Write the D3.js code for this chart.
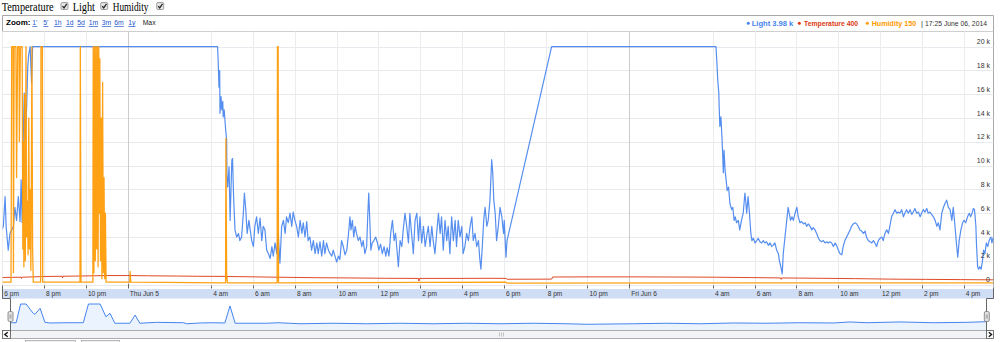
<!DOCTYPE html>
<html><head><meta charset="utf-8">
<script src="https://cdn.jsdelivr.net/npm/d3@7/dist/d3.min.js"></script>
<style>
html,body{margin:0;padding:0;background:#fff;}
svg{display:block;}
</style></head><body>
<svg id="c" width="1000" height="342"></svg>
<script>
// ---------------- DATA ----------------
const seriesNames  = ["Light", "Temperature", "Humidity"];
const seriesColors = ["#4684ee", "#dc3912", "#ff9900"];
const startTime = [2014, 5, 4, 18, 0];   // 2014-06-04 18:00 (minutes below are offsets from this)

// Light: [minutes, value in k]
const lightK = [
[0,4.7],[3,4.9],[8,7.4],[11,4.9],[17,2.9],[22,4.3],[32,4.9],[36,6.5],[41,5.4],[46,7.4],[51,5.3],[54,8.8],[57,5.2],
[60,12.2],[63,16.1],[66,12.2],[70,15],[73,18.3],[76,19.4],[80,20],[84,16.9],[87,20],
[618,20],[620,18.6],[622,16.6],[624,18],[625,14.4],[628,15.8],[630,14.7],[633,15.4],[634,14.1],[637,14.7],[641,13.1],
[644,12.2],[645,9.1],[647,8.2],[651,9.9],[654,5.4],[659,10.5],[661,10.6],[664,7.4],[668,4.6],[673,4.0],[678,4.3],
[682,3.7],[687,4.0],[692,6.0],[695,7.7],[699,6.3],[703,4.3],[708,5.4],[716,3.7],[721,3.2],[725,4.9],[730,5.7],
[735,4.3],[740,5.6],[745,3.7],[749,4.9],[754,4.6],[759,2.9],[764,2.6],[769,2.2],[774,3.2],[778,2.4],[783,3.5],
[788,2.6],[792,4.3],[797,1.8],[802,4.9],[807,5.4],[812,4.3],[816,5.7],[821,5.2],[826,6.0],[831,4.9],[835,6.1],
[840,5.4],[845,4.9],[850,4.0],[855,5.4],[860,4.3],[864,5.2],[869,4.0],[874,5.3],[878,3.7],[883,4.0],[888,2.9],
[893,3.7],[898,2.6],[903,3.5],[907,2.6],[912,3.6],[917,2.4],[922,3.7],[926,2.6],[931,3.5],[936,2.9],[941,2.6],
[946,2.4],[950,2.9],[955,2.4],[960,1.9],[965,2.4],[969,2.1],[974,3.7],[979,3.2],[984,2.5],[989,2.9],[994,4.3],
[998,5.7],[1001,4.6],[1005,5.4],[1009,4.0],[1013,4.9],[1017,4.3],[1022,3.7],[1027,4.0],[1032,3.2],[1036,3.7],
[1041,2.6],[1046,3.2],[1049,5.7],[1052,7.7],[1055,5.4],[1058,2.9],[1062,3.5],[1067,3.7],[1072,4.0],[1077,3.5],
[1081,2.9],[1086,3.4],[1091,2.6],[1096,3.2],[1101,2.4],[1105,3.1],[1110,2.4],[1115,4.3],[1120,5.4],[1125,3.7],
[1129,4.3],[1134,2.6],[1137,1.5],[1142,3.7],[1147,3.2],[1151,4.6],[1156,6.0],[1161,4.9],[1166,3.5],[1170,6.0],
[1175,4.3],[1180,2.6],[1185,5.4],[1190,6.0],[1195,3.7],[1199,5.7],[1204,3.5],[1209,4.9],[1214,3.2],[1218,4.0],
[1223,4.9],[1228,3.2],[1233,4.9],[1237,3.7],[1242,2.6],[1247,4.3],[1252,6.0],[1257,4.3],[1261,5.7],[1266,2.9],
[1271,5.4],[1276,3.7],[1280,4.9],[1285,2.6],[1290,5.7],[1295,3.7],[1300,5.4],[1304,3.2],[1309,5.4],[1314,4.0],
[1319,4.9],[1323,2.6],[1328,3.2],[1333,4.3],[1338,3.7],[1343,4.9],[1348,5.7],[1352,3.7],[1357,4.3],[1362,3.2],
[1367,3.7],[1371,2.1],[1374,1.3],[1378,3.2],[1382,5.4],[1386,6.5],[1391,4.9],[1395,5.4],[1400,7.1],[1405,10.5],
[1408,9.4],[1411,7.1],[1415,6.0],[1419,3.7],[1424,4.9],[1429,6.5],[1434,5.7],[1439,4.3],[1441,5.4],[1446,2.3],
[1449,3.7],
[1577,20],[2049,20],[2051,18.9],[2054,17.2],[2057,16.1],[2058,15],[2060,13.3],[2063,14.1],[2066,12.4],[2068,11.0],
[2070,9.4],[2072,11.3],[2075,9.6],[2078,8.8],[2081,7.9],[2085,8.2],[2089,6.8],[2094,6.3],[2097,6.5],[2101,5.4],
[2104,5.7],[2108,5.2],[2113,5.4],[2117,4.6],[2122,5.4],[2127,6.0],[2132,7.7],[2135,6.8],[2137,6.0],[2141,7.4],
[2145,6.0],[2149,4.3],[2152,3.7],[2156,3.9],[2161,3.5],[2166,3.7],[2170,3.9],[2175,3.6],[2180,3.5],[2185,3.7],
[2189,3.5],[2194,3.6],[2199,3.3],[2204,3.5],[2209,3.2],[2213,3.3],[2218,3.5],[2223,2.9],[2228,2.6],[2231,2.0],
[2235,1.5],[2239,0.9],[2242,2.6],[2247,4.0],[2252,5.4],[2256,6.5],[2259,6.0],[2263,5.4],[2267,5.7],[2271,5.4],
[2276,6.0],[2281,6.5],[2285,5.7],[2290,5.2],[2295,5.3],[2300,5.1],[2305,5.2],[2309,4.9],[2314,5.1],[2319,4.9],
[2324,4.6],[2328,4.8],[2333,4.6],[2338,4.3],[2343,3.9],[2347,3.7],[2352,3.6],[2357,3.7],[2362,3.5],[2367,3.6],
[2371,3.5],[2376,3.6],[2381,3.5],[2386,3.2],[2391,3.5],[2395,3.3],[2400,2.9],[2405,2.6],[2410,2.5],[2414,3.2],
[2419,3.7],[2424,4.0],[2429,4.3],[2434,4.6],[2438,4.9],[2443,5.1],[2448,5.2],[2453,5.1],[2457,4.9],[2462,4.6],
[2467,4.5],[2472,4.3],[2477,4.5],[2481,4.0],[2486,3.7],[2491,3.6],[2496,3.5],[2501,3.7],[2505,3.5],[2510,3.2],
[2515,3.7],[2520,3.9],[2525,4.0],[2529,3.7],[2534,4.3],[2539,4.6],[2544,4.3],[2548,4.9],[2553,5.7],[2558,6.0],
[2563,6.3],[2568,6.0],[2572,6.1],[2577,6.0],[2582,6.3],[2587,5.7],[2591,6.0],[2596,6.3],[2601,6.0],[2606,6.3],
[2611,5.9],[2615,6.1],[2620,6.4],[2625,6.0],[2630,6.1],[2635,5.7],[2639,6.0],[2644,6.3],[2649,6.1],[2654,6.4],
[2658,6.0],[2663,6.1],[2668,5.9],[2673,5.7],[2678,5.4],[2683,4.9],[2687,5.2],[2692,4.6],[2697,6.0],[2702,6.5],
[2706,6.8],[2711,7.1],[2716,6.5],[2721,6.3],[2726,5.4],[2730,6.5],[2735,4.9],[2740,3.2],[2743,2.3],[2747,3.7],
[2752,4.6],[2757,5.2],[2761,5.4],[2766,5.2],[2771,5.7],[2776,6.0],[2780,5.7],[2785,6.1],[2788,6.4],[2791,6.3],
[2795,4.9],[2797,3.2],[2800,1.5],[2803,1.3],[2806,1.5],[2810,1.3],[2814,2.0],[2817,2.9],[2821,2.6],[2825,3.5],
[2829,3.2],[2833,3.7],[2838,4.0],[2841,3.5],[2845,3.98]
];

// Temperature: [minutes, raw value]
const temperature = [
[0,600],[30,610],[54,620],[55,520],[56,620],[90,650],[120,680],[172,700],[173,560],[174,700],[240,730],[300,760],
[360,760],[420,740],[500,720],[560,700],[641,690],[642,480],[644,680],[700,660],[790,620],[791,520],[792,620],
[900,580],[1000,560],[1100,530],[1195,520],[1196,300],[1198,520],[1300,520],[1400,530],[1446,520],[1449,450],
[1577,460],[1580,640],[1700,650],[1800,650],[1900,640],[2000,630],[2050,620],[2150,590],[2235,560],[2236,440],
[2238,560],[2350,530],[2450,500],[2550,460],[2650,440],[2750,420],[2800,410],[2845,400]
];

// Humidity: [minutes, raw value]
const humidity = [
[0,200],[25,200],[27,20000],[31,20000],[32,1000],[34,20000],[39,20000],[41,9000],[44,20000],[48,20000],[49,12000],
[52,20000],[57,20000],[59,3000],[60,12000],[62,1500],[64,16000],[66,2000],[68,20000],[70,4000],[72,7000],[74,2500],
[76,14000],[78,3000],[80,8000],[82,1200],[83,6000],[85,20000],[87,3000],[89,200],[110,200],[111,20000],[115,20000],
[116,200],[223,200],[224,20000],[226,200],[260,200],[261,20000],[263,1000],[265,20000],[267,2000],[269,20000],
[271,3000],[273,20000],[275,1500],[277,20000],[278,6000],[280,19000],[282,2000],[284,14000],[286,500],[288,17000],
[290,1000],[292,9000],[294,500],[296,6000],[298,200],[366,200],[367,1100],[369,200],[641,150],[642,12300],
[644,1000],[646,150],[789,150],[790,20000],[792,20000],[793,150],[1446,200],[1449,130],[2845,150]
];

// Range-selector overview line: [minutes, value in k]
const overviewK = [
[0,5.6],[5,5.6],[15,5.6],[28,20],[44,20],[65,12.8],[70,12.1],[85,16.7],[99,5.9],[114,5.4],[163,5.6],[211,5.6],
[226,20],[260,20],[277,10.2],[289,12.8],[303,5.2],[347,5.2],[362,11.5],[376,5.2],[425,5.9],[503,5.6],[513,4.8],
[552,5.4],[590,5.6],[624,5.4],[639,18.5],[654,5.2],[746,5.2],[780,5.6],[843,4.8],[940,5.2],[1038,4.8],[1135,5.2],
[1231,4.8],[1330,5.2],[1427,4.8],[1524,5.2],[1622,4.8],[1680,4.4],[1816,4.8],[1913,5.2],[2011,4.8],[2108,5.4],
[2205,5.2],[2302,5.6],[2400,5.4],[2448,6.2],[2497,5.6],[2594,6.2],[2691,5.6],[2789,5.9],[2845,6.4]
];

const yTickValues = [0,2000,4000,6000,8000,10000,12000,14000,16000,18000,20000];
const zoomLabels  = ["1'","5'","1h","1d","5d","1m","3m","6m","1y","Max"];

// ---------------- LAYOUT ----------------
const svg = d3.select("#c");
const base = new Date(...startTime);
const toDate = m => new Date(base.getTime() + m * 60000);
const endMin = lightK[lightK.length - 1][0];
const P = {l: 2.5, r: 993.5, t: 31.5, b: 288};

const x = d3.scaleTime().domain([toDate(0), toDate(endMin)]).range([2.3, 993.3]);
const y = d3.scaleLinear().domain([0, 20000]).range([284.6, 46.7]);
const xo = d3.scaleTime().domain([toDate(0), toDate(endMin)]).range([11, 986]);
const yo = d3.scaleLinear().domain([0, 20]).range([330, 304]);

const SANS = "'Liberation Sans', Arial, sans-serif";

// --- checkbox row ---
const cbText = [1.7, 72.7, 112.7], cbW = [52, 22.3, 35.7], cbBox = [61, 100.7, 156.7];
const cbOrder = ["Temperature", "Light", "Humidity"];
cbOrder.forEach((n, i) => {
  svg.append("text").attr("x", cbText[i]).attr("y", 11)
    .attr("font-family", "'Liberation Serif','Times New Roman',serif").attr("font-size", 11.5)
    .attr("textLength", cbW[i]).attr("lengthAdjust", "spacingAndGlyphs").text(n);
  const bx = cbBox[i], by = 2.5;
  svg.append("rect").attr("x", bx).attr("y", by).attr("width", 7).attr("height", 7).attr("rx", 1.2)
    .attr("fill", "#e4e4e4").attr("stroke", "#8a8a8a").attr("stroke-width", 0.8);
  svg.append("path").attr("d", `M${bx+1.5},${by+3.6}L${bx+3},${by+5.4}L${bx+5.8},${by+1.4}`)
    .attr("fill", "none").attr("stroke", "#222").attr("stroke-width", 1.2);
});

// --- outer frame ---
svg.append("path").attr("d", `M${P.l},298.5V15.5H${P.r}V298.5`).attr("fill", "none").attr("stroke", "#a8a8a8");
svg.append("line").attr("x1", P.l).attr("x2", P.r).attr("y1", P.t).attr("y2", P.t).attr("stroke", "#cfcfcf");

// --- zoom row ---
svg.append("text").attr("x", 6).attr("y", 25).attr("font-family", SANS).attr("font-size", 8)
  .attr("font-weight", "bold").text("Zoom:");
const zoomX = [32.3, 43.3, 54, 66, 77.3, 88.7, 101.7, 114.3, 128.3, 142.7];
zoomLabels.forEach((z, i) => {
  const isMax = z === "Max";
  svg.append("text").attr("x", zoomX[i]).attr("y", 25).attr("font-family", SANS).attr("font-size", 6.8)
    .attr("fill", isMax ? "#222" : "#2255cc").attr("text-decoration", isMax ? null : "underline").text(z);
});

// --- legend (values from data) ---
const lastL = lightK[lightK.length - 1][1];
const lastT = temperature[temperature.length - 1][1];
const lastH = humidity[humidity.length - 1][1];
const legendTexts = [`${seriesNames[0]} ${lastL.toFixed(2)} k`, `${seriesNames[1]} ${lastT}`, `${seriesNames[2]} ${lastH}`];
const legDot = [748.3, 799.3, 867.3], legX = [751.7, 804, 871.7], legW = [41.6, 54, 44.5];
legendTexts.forEach((t, i) => {
  svg.append("circle").attr("cx", legDot[i]).attr("cy", 23.2).attr("r", 1.5).attr("fill", seriesColors[i]);
  svg.append("text").attr("x", legX[i]).attr("y", 25.7).attr("font-family", SANS).attr("font-size", 7.8)
    .attr("font-weight", "bold").attr("fill", seriesColors[i])
    .attr("textLength", legW[i]).attr("lengthAdjust", "spacingAndGlyphs").text(t);
});
svg.append("text").attr("x", 921).attr("y", 25.7).attr("font-family", SANS).attr("font-size", 7.5).attr("fill", "#333").text("|");
svg.append("text").attr("x", 925).attr("y", 25.7).attr("font-family", SANS).attr("font-size", 7.5).attr("fill", "#333")
  .attr("textLength", 62).attr("lengthAdjust", "spacingAndGlyphs")
  .text(d3.timeFormat("%H:%M %B %d, %Y")(toDate(endMin)));

// --- grid ---
const xTicks = x.ticks(d3.timeHour.every(2)).filter(d => d.getHours() !== 2);
const isMidnight = d => d.getHours() === 0;
svg.append("g").selectAll("line").data(yTickValues).join("line")
  .attr("x1", P.l).attr("x2", P.r).attr("y1", d => Math.round(y(d)) + 0.5).attr("y2", d => Math.round(y(d)) + 0.5)
  .attr("stroke", "#e8e8ef");
svg.append("g").selectAll("line").data(xTicks).join("line")
  .attr("x1", d => Math.round(x(d)) + 0.5).attr("x2", d => Math.round(x(d)) + 0.5)
  .attr("y1", P.t).attr("y2", P.b)
  .attr("stroke", d => isMidnight(d) ? "#cccccc" : "#ececec");

// --- series ---
svg.append("clipPath").attr("id", "pc").append("rect")
  .attr("x", P.l).attr("y", P.t).attr("width", P.r - P.l).attr("height", P.b - P.t);
const g = svg.append("g").attr("clip-path", "url(#pc)");
const line = d3.line().x(d => x(toDate(d[0]))).y(d => y(d[1]));
const lightRaw = lightK.map(d => [d[0], d[1] * 1000]);
const widths = [1.2, 1, 1.3];
[[lightRaw, 0], [temperature, 1], [humidity, 2]].forEach(([data, i]) => {
  g.append("path").datum(data).attr("d", line).attr("fill", "none")
    .attr("stroke", seriesColors[i]).attr("stroke-width", widths[i]).attr("stroke-opacity", 0.92)
    .attr("stroke-linejoin", "round");
});

// --- y labels ---
svg.append("g").selectAll("text").data(yTickValues).join("text")
  .attr("x", 990).attr("y", d => y(d) - 2.5).attr("text-anchor", "end")
  .attr("font-family", SANS).attr("font-size", 7).attr("fill", "#333")
  .text(d => d === 0 ? "0" : (d / 1000) + " k");

// --- x axis band ---
svg.append("rect").attr("x", P.l).attr("y", 289).attr("width", P.r - P.l).attr("height", 9.5).attr("fill", "#cfdef5");
svg.append("g").selectAll("line").data(xTicks).join("line")
  .attr("x1", d => Math.round(x(d)) + 0.5).attr("x2", d => Math.round(x(d)) + 0.5)
  .attr("y1", d => isMidnight(d) ? 284 : 285.5).attr("y2", 288.5).attr("stroke", "#666");
const fmt = d => isMidnight(d) ? d3.timeFormat("%a %b %-d")(d) : d3.timeFormat("%-I %p")(d).toLowerCase();
svg.append("g").selectAll("text").data(xTicks).join("text")
  .attr("x", d => Math.max(x(d) + 2, 4)).attr("y", 296.2)
  .attr("font-family", SANS).attr("font-size", 6.6).attr("fill", "#333").text(fmt);

// --- range selector ---
const area = d3.area().x(d => xo(toDate(d[0]))).y0(330).y1(d => yo(d[1]));
const lineO = d3.line().x(d => xo(toDate(d[0]))).y(d => yo(d[1]));
svg.append("path").datum(overviewK).attr("d", area).attr("fill", "#ebf3fe");
svg.append("path").datum(overviewK).attr("d", lineO).attr("fill", "none").attr("stroke", "#4684ee").attr("stroke-width", 1);

svg.append("path").attr("d", `M${P.l},288V298.5H10.5V330.5M${P.r},288V298.5H986.5V330.5`)
  .attr("fill", "none").attr("stroke", "#666");
[[8, 311.5], [984.3, 311.5]].forEach(([hx, hy]) => {
  svg.append("rect").attr("x", hx).attr("y", hy).attr("width", 5).attr("height", 10).attr("rx", 1.5)
    .attr("fill", "#e2e2e2").attr("stroke", "#777").attr("stroke-width", 0.8);
  svg.append("path").attr("d", `M${hx+2},${hy+3}V${hy+7}M${hx+3},${hy+3}V${hy+7}`).attr("stroke", "#888").attr("stroke-width", 0.6);
});

// scrollbar
svg.append("rect").attr("x", 10.5).attr("y", 330.5).attr("width", 976).attr("height", 8)
  .attr("fill", "#f1f3f6").attr("stroke", "#999").attr("stroke-width", 0.8);
svg.append("rect").attr("x", P.l).attr("y", 330.5).attr("width", 8).attr("height", 8)
  .attr("fill", "#fafafa").attr("stroke", "#555").attr("stroke-width", 0.8);
svg.append("path").attr("d", "M7.8,332.3L4.8,334.5L7.8,336.7").attr("fill", "none").attr("stroke", "#111").attr("stroke-width", 1.3);
svg.append("rect").attr("x", 986.5).attr("y", 330.5).attr("width", 7).attr("height", 8)
  .attr("fill", "#fafafa").attr("stroke", "#555").attr("stroke-width", 0.8);
svg.append("path").attr("d", "M988.8,332.3L991.6,334.5L988.8,336.7").attr("fill", "none").attr("stroke", "#111").attr("stroke-width", 1.3);
svg.append("path").attr("d", "M499.5,332.5V336.5M501.5,332.5V336.5M503.5,332.5V336.5").attr("stroke", "#aaa").attr("stroke-width", 0.7);

// partial controls below
[[25, 50], [81, 38]].forEach(([bx, bw]) => {
  svg.append("rect").attr("x", bx + 0.5).attr("y", 340.5).attr("width", bw).attr("height", 6)
    .attr("fill", "#f0f0f0").attr("stroke", "#aaa").attr("stroke-width", 0.8);
});
</script>
</body></html>
